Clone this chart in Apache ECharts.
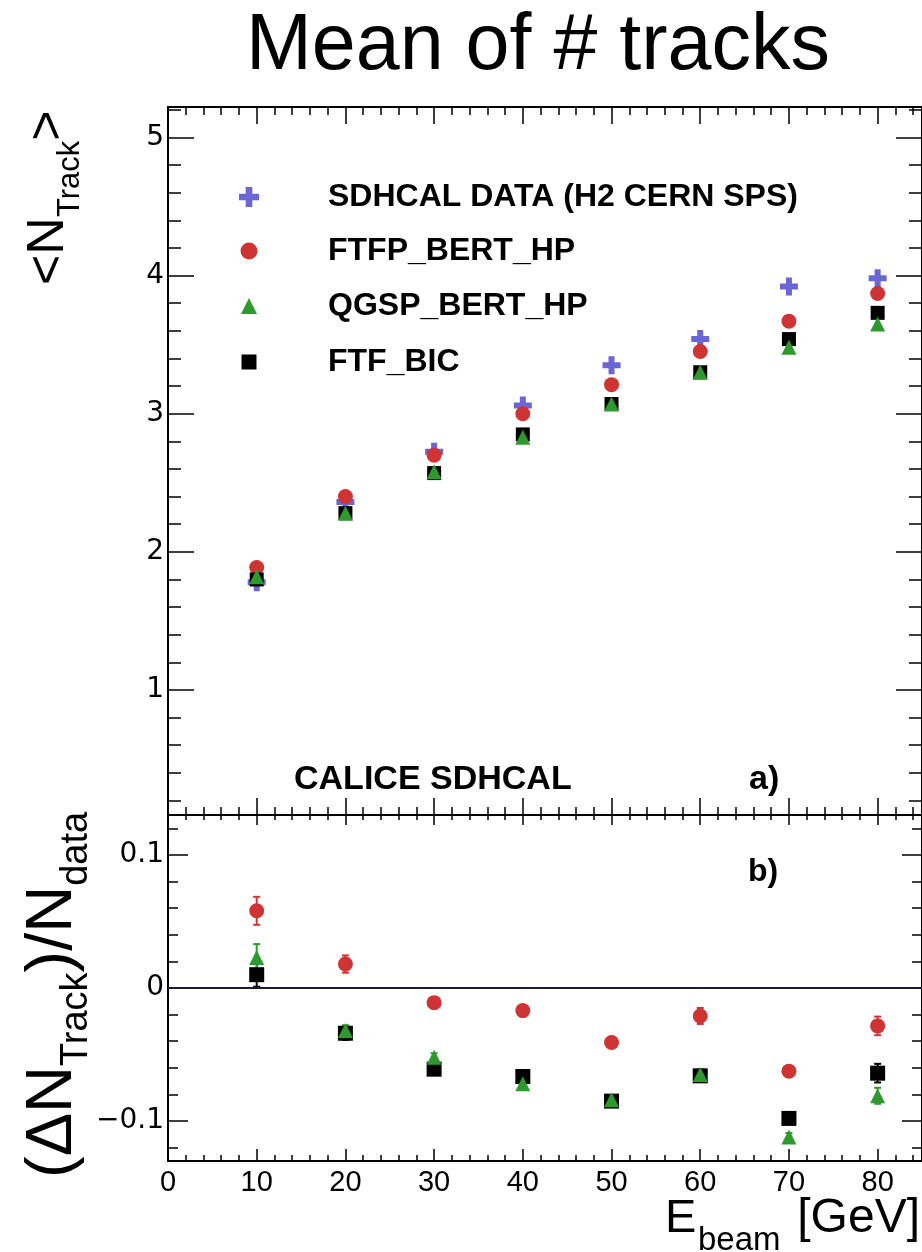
<!DOCTYPE html>
<html><head><meta charset="utf-8">
<script src="https://cdn.jsdelivr.net/npm/echarts@6/dist/echarts.min.js"></script>
<style>html,body{margin:0;padding:0;background:#fff}#c{width:922px;height:1252px}</style>
</head><body><div id="c"></div>
<script>
// ---- data ----
const energies = [10, 20, 30, 40, 50, 60, 70, 80];
const dataMean = [1.78, 2.36, 2.725, 3.06, 3.35, 3.54, 3.92, 3.98];
const ftfpMean = [1.887, 2.40, 2.70, 3.00, 3.21, 3.45, 3.67, 3.87];
const qgspMean = [1.82, 2.28, 2.58, 2.83, 3.07, 3.30, 3.48, 3.65];
const ftfMean  = [1.80, 2.28, 2.57, 2.85, 3.07, 3.30, 3.54, 3.73];

const ftfpRatio = [0.058, 0.018, -0.011, -0.017, -0.041, -0.021, -0.0625, -0.0285];
const ftfpErr   = [0.0105, 0.0065, 0.003, 0.003, 0.003, 0.006, 0.003, 0.007];
const qgspRatio = [0.023, -0.032, -0.052, -0.072, -0.084, -0.065, -0.112, -0.081];
const qgspErr   = [0.010, 0.004, 0.003, 0.003, 0.003, 0.004, 0.003, 0.006];
const ftfRatio  = [0.010, -0.034, -0.061, -0.0665, -0.085, -0.066, -0.098, -0.064];
const ftfErr    = [0.009, 0.005, 0.004, 0.004, 0.004, 0.004, 0.003, 0.007];

const seriesNames = ['SDHCAL DATA (H2 CERN SPS)', 'FTFP_BERT_HP', 'QGSP_BERT_HP', 'FTF_BIC'];
const topMajorY = [1, 2, 3, 4, 5];
const topMinorY = [0.2,0.4,0.6,0.8,1,1.2,1.4,1.6,1.8,2,2.2,2.4,2.6,2.8,3,3.2,3.4,3.6,3.8,4,4.2,4.4,4.6,4.8,5,5.2];
const botMajorY = [-0.1, 0, 0.1];
const botMinorY = [-0.12,-0.1,-0.08,-0.06,-0.04,-0.02,0,0.02,0.04,0.06,0.08,0.1,0.12];

// ---- style ----
const FONT = '"Liberation Sans", Arial, Helvetica, sans-serif';
const C_DATA = '#6a66d6', C_FTFP = '#cf3434', C_QGSP = '#2e9a2e', C_FTF = '#000000';
const CROSS = 'path://M1,0H2V1H3V2H2V3H1V2H0V1H1Z';

const chart = echarts.init(document.getElementById('c'), null, {renderer: 'canvas'});

const mctx = document.createElement('canvas').getContext('2d');
function tw(t, f) { mctx.font = f + 'px ' + FONT; return mctx.measureText(t).width; }

function xAx(grid, pos, interval, len, showLabel) {
  return {
    type: 'value', gridIndex: grid, position: pos, min: 0, max: 85, interval: interval,
    axisLine: {show: true, onZero: false, lineStyle: {color: '#000', width: 2}},
    axisTick: {show: true, inside: true, length: len, lineStyle: {color: '#000', width: 1.5}},
    axisLabel: {show: showLabel, showMaxLabel: false, margin: 7, color: '#000', fontFamily: FONT, fontSize: 29},
    splitLine: {show: false}
  };
}
function yAx(grid, pos, min, max, ticks, len, showLabel, fmt) {
  return {
    type: 'value', gridIndex: grid, position: pos, min: min, max: max,
    axisLine: {show: true, onZero: false, lineStyle: {color: '#000', width: 2}},
    axisTick: {show: true, inside: true, length: len, customValues: ticks, lineStyle: {color: '#000', width: 1.5}},
    axisLabel: {show: showLabel, customValues: ticks, margin: 4, color: '#000', fontFamily: '"DejaVu Sans", sans-serif', fontSize: 28, formatter: fmt},
    splitLine: {show: false}
  };
}
const fmtTop = v => String(Math.round(v));
const fmtBot = v => Math.abs(v) < 1e-9 ? '0' : (v < 0 ? '\u2212' : '') + Math.abs(v).toFixed(1);

const xAxes = [
  xAx(0, 'bottom', 10, 17, false), xAx(0, 'bottom', 2, 8, false),
  xAx(0, 'top', 10, 17, false),    xAx(0, 'top', 2, 8, false),
  xAx(1, 'bottom', 10, 12, true),  xAx(1, 'bottom', 2, 6, false),
  xAx(1, 'top', 10, 10, false),    xAx(1, 'top', 2, 5, false)
];
const yAxes = [
  yAx(0, 'left', 0.095, 5.22, topMajorY, 26, true, fmtTop),  yAx(0, 'left', 0.095, 5.22, topMinorY, 13, false, fmtTop),
  yAx(0, 'right', 0.095, 5.22, topMajorY, 26, false, fmtTop), yAx(0, 'right', 0.095, 5.22, topMinorY, 13, false, fmtTop),
  yAx(1, 'left', -0.13, 0.13, botMajorY, 20, true, fmtBot),   yAx(1, 'left', -0.13, 0.13, botMinorY, 10, false, fmtBot),
  yAx(1, 'right', -0.13, 0.13, botMajorY, 20, false, fmtBot), yAx(1, 'right', -0.13, 0.13, botMinorY, 10, false, fmtBot)
];

function pts(vals) { return energies.map((e, i) => [e, vals[i]]); }
function scat(name, vals, symbol, size, color, xi, yi, extra) {
  return Object.assign({
    type: 'scatter', name: name, xAxisIndex: xi, yAxisIndex: yi, data: pts(vals),
    symbol: symbol, symbolSize: size, itemStyle: {color: color, opacity: 1}, silent: true, animation: false
  }, extra || {});
}
function errSeries(name, vals, errs, color) {
  return {
    type: 'custom', name: name, xAxisIndex: 4, yAxisIndex: 4, silent: true, animation: false, z: 1,
    data: energies.map((e, i) => [e, vals[i] - errs[i], vals[i] + errs[i]]),
    renderItem: function (params, api) {
      const lo = api.coord([api.value(0), api.value(1)]);
      const hi = api.coord([api.value(0), api.value(2)]);
      const cw = 3.5;
      const st = {stroke: color, lineWidth: 2};
      return {type: 'group', children: [
        {type: 'line', shape: {x1: lo[0], y1: lo[1], x2: hi[0], y2: hi[1]}, style: st},
        {type: 'line', shape: {x1: lo[0] - cw, y1: lo[1], x2: lo[0] + cw, y2: lo[1]}, style: st},
        {type: 'line', shape: {x1: hi[0] - cw, y1: hi[1], x2: hi[0] + cw, y2: hi[1]}, style: st}
      ]};
    }
  };
}

const series = [
  scat(seriesNames[0], dataMean, CROSS, 18, C_DATA, 0, 0),
  scat(seriesNames[1], ftfpMean, 'circle', 15, C_FTFP, 0, 0),
  scat(seriesNames[3], ftfMean, 'rect', 14, C_FTF, 0, 0),
  scat(seriesNames[2], qgspMean, 'triangle', 15, C_QGSP, 0, 0),
  errSeries('ftfp err', ftfpRatio, ftfpErr, C_FTFP),
  errSeries('ftf err', ftfRatio, ftfErr, C_FTF),
  errSeries('qgsp err', qgspRatio, qgspErr, C_QGSP),
  scat('FTFP ratio', ftfpRatio, 'circle', 15, C_FTFP, 4, 4, {
    markLine: {silent: true, symbol: 'none', animation: false, label: {show: false},
      lineStyle: {color: '#1a1a3c', width: 2, type: 'solid'}, data: [{yAxis: 0}]}
  }),
  scat('FTF ratio', ftfRatio, 'rect', 15, C_FTF, 4, 4),
  scat('QGSP ratio', qgspRatio, 'triangle', 15, C_QGSP, 4, 4)
];

const legendRows = [196, 250, 305, 361];
const legendSizes = [20, 17, 16, 15];
const legendIcons = [CROSS, 'circle', 'triangle', 'rect'];
const legendOrder = [0, 1, 2, 3];
const legends = legendOrder.map((k, i) => ({
  orient: 'vertical', left: 244 - legendSizes[i] / 2, top: legendRows[i] - 20,
  itemWidth: legendSizes[i], itemHeight: legendSizes[i], selectedMode: false,
  data: [{name: seriesNames[k], icon: legendIcons[i]}],
  textStyle: {fontFamily: FONT, fontWeight: 'bold', fontSize: 32, color: '#000',
    padding: [0, 0, 0, 79 - legendSizes[i] / 2 - 5]}
}));

function txt(x, y, t, f, bold, align) {
  return {type: 'text', x: x, y: y, silent: true, style: {
    text: t, fontSize: f, fontFamily: FONT, fontWeight: bold ? 'bold' : 'normal', fill: '#000',
    textAlign: align || 'left', textVerticalAlign: 'middle', align: align || 'left', verticalAlign: 'middle'}};
}
function vTitle(x0, y0, parts) {
  let pos = 0; const children = [];
  for (const p of parts) {
    const c = txt(pos, p.d - 0.36 * p.f, p.t, p.f, false, 'left');
    children.push(c);
    pos += tw(p.t, p.f);
  }
  return {type: 'group', x: x0, y: y0, rotation: Math.PI / 2, children: children};
}

const graphics = [
  txt(538, 76 - 0.36 * 79, 'Mean of # tracks', 79, false, 'center'),
  txt(294, 792 - 0.36 * 34, 'CALICE SDHCAL', 34, true),
  txt(749, 792 - 0.36 * 34, 'a)', 34, true),
  txt(748, 884 - 0.36 * 32, 'b)', 32, true),
  txt(665, 1236 - 0.36 * 47, 'E', 47, false),
  txt(698, 1253 - 0.36 * 33, 'beam', 33, false),
  txt(920, 1236 - 0.36 * 48, '[GeV]', 48, false, 'right'),
  vTitle(67, 285, [{t: '<N', f: 52, d: 0}, {t: 'Track', f: 31, d: 15}, {t: '>', f: 52, d: 0}]),
  vTitle(76, 1178, [{t: '(\u0394N', f: 65, d: 0}, {t: 'Track', f: 38, d: 14}, {t: ')/N', f: 65, d: 0}, {t: 'data', f: 38, d: 14}])
];

chart.setOption({
  backgroundColor: '#fff',
  animation: false,
  grid: [
    {left: 168, top: 107, width: 754, height: 708, containLabel: false},
    {left: 168, top: 815, width: 754, height: 346, containLabel: false}
  ],
  xAxis: xAxes,
  yAxis: yAxes,
  legend: legends,
  series: series,
  graphic: graphics
});
</script>
</body></html>
